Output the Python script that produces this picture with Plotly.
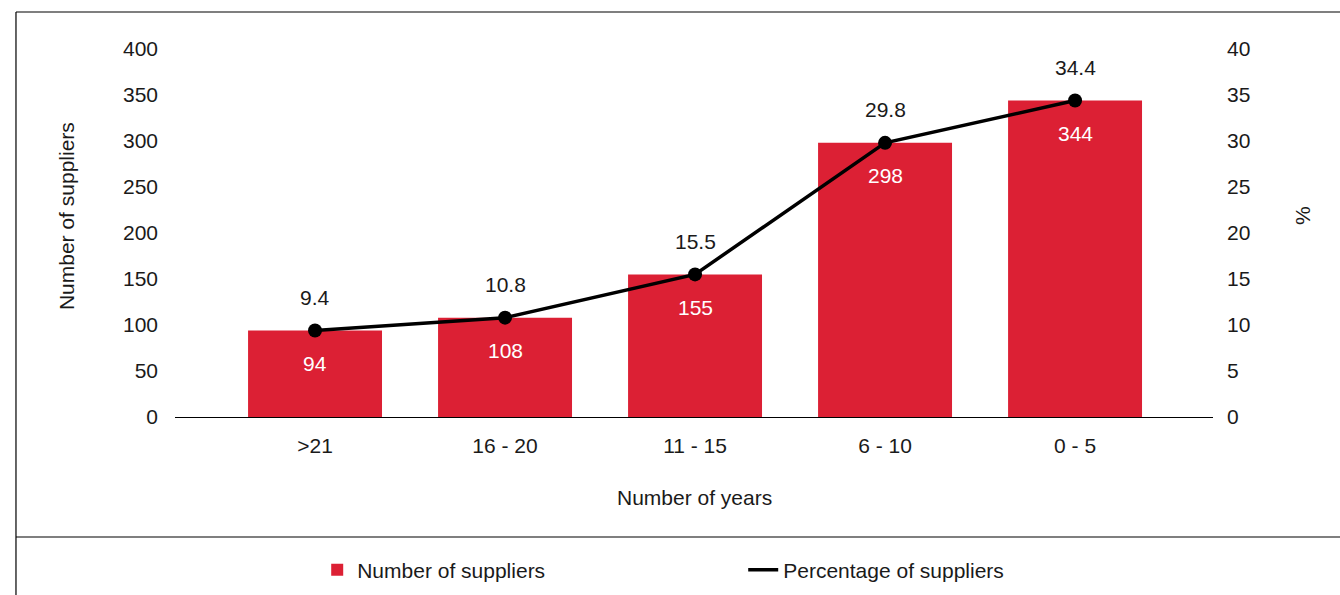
import plotly.graph_objects as go

# Supplier tenure data
years = [">21", "16 - 20", "11 - 15", "6 - 10", "0 - 5"]
supplier_counts = [94, 108, 155, 298, 344]
supplier_pct = [9.4, 10.8, 15.5, 29.8, 34.4]

count_ticks = [0, 50, 100, 150, 200, 250, 300, 350, 400]
pct_ticks = [0, 5, 10, 15, 20, 25, 30, 35, 40]

RED = "#DC2034"
INK = "#1a1a1a"
FONT = "Liberation Sans, Arial, Helvetica, sans-serif"
FS = 21

fig = go.Figure()

fig.add_trace(go.Bar(
    x=years, y=supplier_counts, name="Number of suppliers",
    marker=dict(color=RED, line=dict(width=0)), width=0.705,
    yaxis="y",
))

# Percentage line (legend entry) and its point markers
fig.add_trace(go.Scatter(
    x=years, y=supplier_pct, name="Percentage of suppliers",
    mode="lines", yaxis="y2",
    line=dict(color="black", width=3.5),
))
fig.add_trace(go.Scatter(
    x=years, y=supplier_pct, name="Percentage of suppliers",
    mode="markers", yaxis="y2", showlegend=False,
    marker=dict(color="black", size=14),
))

annotations = []
# Count labels inside the bars
for cat, v in zip(years, supplier_counts):
    annotations.append(dict(x=cat, y=v, xref="x", yref="y", text=str(v),
                            showarrow=False, yshift=-33,
                            font=dict(color="white", size=FS, family=FONT)))
# Percentage labels above the points
for cat, v in zip(years, supplier_pct):
    annotations.append(dict(x=cat, y=v, xref="x", yref="y2", text=f"{v:.1f}",
                            showarrow=False, yshift=33,
                            font=dict(color=INK, size=FS, family=FONT)))

# Axis titles
annotations.append(dict(x=-0.105, y=0.546, xref="paper", yref="paper",
                        xanchor="center", yanchor="middle",
                        text="Number of suppliers", textangle=-90, showarrow=False,
                        font=dict(size=FS, family=FONT, color=INK)))
annotations.append(dict(x=1.0867, y=0.549, xref="paper", yref="paper",
                        xanchor="center", yanchor="middle",
                        text="%", textangle=-90, showarrow=False,
                        font=dict(size=FS, family=FONT, color=INK)))
annotations.append(dict(x=0.5, y=-0.2174, xref="paper", yref="paper",
                        xanchor="center", yanchor="middle",
                        text="Number of years", showarrow=False,
                        font=dict(size=FS, family=FONT, color=INK)))

# Frame around the chart and divider above the legend
frame = dict(color="black", width=1.2)
shapes = [
    dict(type="line", xref="paper", yref="paper", x0=-0.1532, x1=1.13, y0=1.1005, y1=1.1005, line=frame),
    dict(type="line", xref="paper", yref="paper", x0=-0.1532, x1=-0.1532, y0=1.1005, y1=-0.5, line=frame),
    dict(type="line", xref="paper", yref="paper", x0=-0.1532, x1=1.13, y0=-0.3261, y1=-0.3261, line=frame),
]

fig.update_layout(
    width=1340, height=595,
    margin=dict(l=175, r=127, t=49, b=178, autoexpand=False),
    paper_bgcolor="white", plot_bgcolor="white",
    font=dict(family=FONT, size=FS, color=INK),
    showlegend=True,
    legend=dict(orientation="h", x=0.137, y=-0.4158, xanchor="left", yanchor="middle",
                font=dict(size=FS, family=FONT, color=INK),
                entrywidth=381, entrywidthmode="pixels", bgcolor="rgba(0,0,0,0)"),
    xaxis=dict(range=[-0.737, 4.726], showgrid=False, zeroline=False,
               showline=True, linecolor="black", linewidth=1.2,
               ticks="", ticklabelstandoff=10, fixedrange=True),
    yaxis=dict(range=[0, 400], tickvals=count_ticks, showgrid=False, zeroline=False,
               showline=False, ticks="", ticklabelstandoff=16),
    yaxis2=dict(range=[0, 40], tickvals=pct_ticks, overlaying="y", side="right",
                showgrid=False, zeroline=False, showline=False, ticks="",
                ticklabelstandoff=13),
    annotations=annotations,
    shapes=shapes,
)

fig.write_html("out.html")
